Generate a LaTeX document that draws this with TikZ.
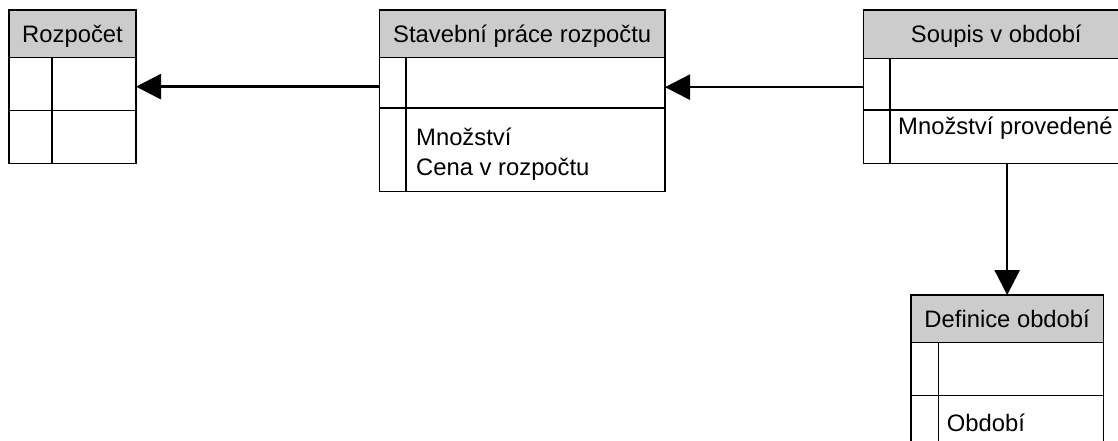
\documentclass[tikz,border=0pt]{standalone}
\usepackage{fontspec}
\setmainfont{Liberation Sans}
\usetikzlibrary{arrows.meta,calc,positioning}

\tikzset{
	cell/.style={draw, line width=1.3pt, inner sep=0pt, outer sep=0pt},
	hdr/.style={cell, anchor=north west, fill=gray!40, minimum height=47.3pt, text height=17pt, text depth=0pt, font=\fontsize{23.8}{29.5}\selectfont},
	row/.style={cell},
	fld/.style={inner sep=0pt, anchor=base west, font=\fontsize{23.8}{29.5}\selectfont},
	sep/.style={line width=1.3pt},
	link/.style={line width=2.6pt, -{Triangle[length=25pt, width=25pt]}},
}

\begin{document}
\begin{tikzpicture}[x=1pt,y=1pt,yscale=-1,xscale=1]
	\useasboundingbox (0,0) rectangle (1118,441);
	\clip (0,0) rectangle (1118,441);
	
	%Table: Rozpocet
	\node[hdr, minimum width=127pt] (rozp-hdr) at (9,10) {Rozpočet};
	\node[row, minimum width=127pt, minimum height=53.5pt, below=0pt of rozp-hdr] (rozp-r1) {};
	\node[row, minimum width=127pt, minimum height=53pt, below=0pt of rozp-r1] (rozp-r2) {};
	\draw[sep] ($(rozp-r1.north west)+(43,0)$) -- ($(rozp-r2.south west)+(43,0)$);
	
	%Table: Stavebni prace
	\node[hdr, minimum width=285.7pt] (sp-hdr) at (379.3,10) {Stavební práce rozpočtu};
	\node[row, minimum width=285.7pt, minimum height=50.7pt, below=0pt of sp-hdr] (sp-r1) {};
	\node[row, minimum width=285.7pt, minimum height=83.7pt, below=0pt of sp-r1] (sp-r2) {};
	\draw[sep] ($(sp-r1.north west)+(26.7,0)$) -- ($(sp-r2.south west)+(26.7,0)$);
	
	%Table: Soupis
	\node[hdr, minimum width=266pt, minimum height=48.3pt] (soup-hdr) at (863.3,10) {Soupis v období};
	\node[row, minimum width=266pt, minimum height=51.7pt, below=0pt of soup-hdr] (soup-r1) {};
	\node[row, minimum width=266pt, minimum height=53.3pt, below=0pt of soup-r1] (soup-r2) {};
	\draw[sep] ($(soup-r1.north west)+(26.7,0)$) -- ($(soup-r2.south west)+(26.7,0)$);
	
	%Table: Definice
	\node[hdr, minimum width=192.3pt] (def-hdr) at (911,295) {Definice období};
	\node[row, minimum width=192.3pt, minimum height=53.4pt, below=0pt of def-hdr] (def-r1) {};
	\node[row, minimum width=192.3pt, minimum height=60pt, below=0pt of def-r1] (def-r2) {};
	\draw[sep] ($(def-r1.north west)+(27.3,0)$) -- ($(def-r2.south west)+(27.3,0)$);
	
	% Text Node
	\node[fld] (sp-f1) at (416,145.7) {Množství};
	% Text Node
	\node[fld] (sp-f2) at (416,175.2) {Cena v rozpočtu};
	% Text Node
	\node[fld] (soup-f1) at (898,135) {Množství provedené};
	% Text Node
	\node[fld] (def-f1) at (946.7,431.7) {Období};
	
	%Links
	\coordinate (sp-out) at ($(sp-r1.west)+(0,4)$);
	\coordinate (soup-out) at ($(soup-r1.west)+(0,3)$);
	\draw[link] (sp-out) -- (sp-out -| rozp-r1.east);
	\draw[link] (soup-out) -- (soup-out -| sp-r1.east);
	\draw[link] (def-hdr.north |- soup-r2.south) -- (def-hdr.north);
	
\end{tikzpicture}
\end{document}
